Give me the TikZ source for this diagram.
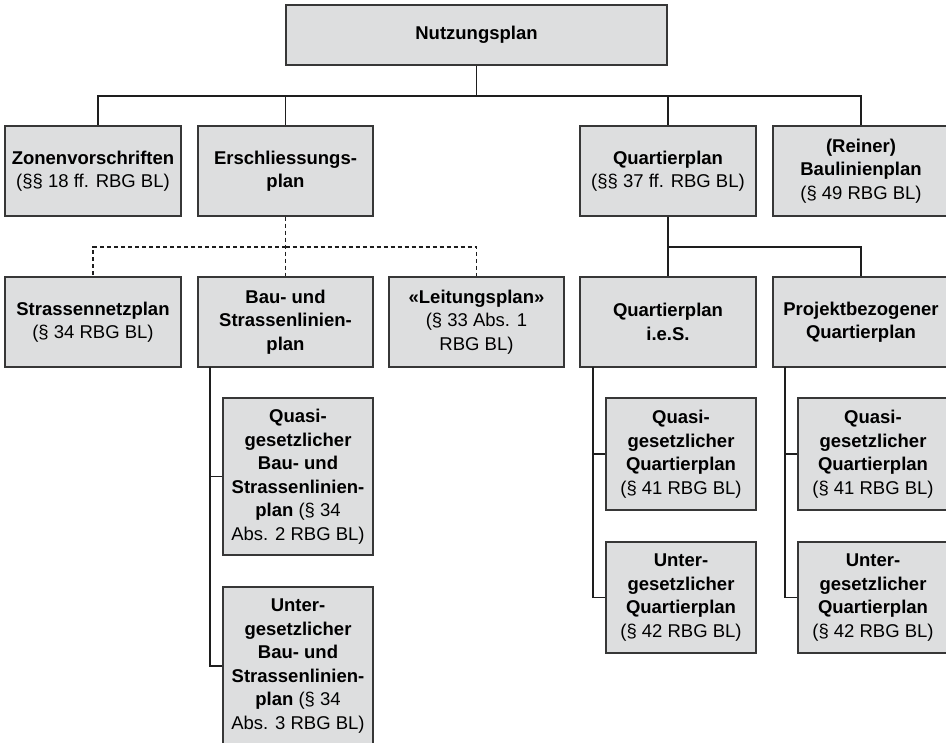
\documentclass[tikz,border=0pt]{standalone}
\usepackage{fontspec}
\setmainfont{Liberation Sans}
\definecolor{boxfill}{RGB}{221,222,223}
\definecolor{boxline}{RGB}{55,55,55}
\definecolor{conline}{RGB}{30,30,30}
\begin{document}
\begin{tikzpicture}[x=1pt,y=-1pt,
  box/.style={draw=boxline, fill=boxfill, line width=1.4pt, inner sep=0pt,
    align=center, text=black, font=\fontsize{18.5}{23.5}\selectfont},
  con/.style={draw=conline, line width=1.3pt},
  dcon/.style={con, dash pattern=on 4pt off 3pt}]
\useasboundingbox (0,0) rectangle (946,743);
\clip (0,0) rectangle (946,743);
% row 0
\node[box, minimum width=381pt, minimum height=60pt] (nutz) at (476.5,35) {\textbf{Nutzungsplan}};
% row 1
\node[box, minimum width=176pt, minimum height=90pt] (zon) at (93,171) {\textbf{Zonenvorschriften}\\(§§ 18 ff. RBG BL)};
\node[box, minimum width=175pt, minimum height=90pt] (ers) at (285.5,171) {\textbf{Erschliessungs-}\\\textbf{plan}};
\node[box, minimum width=176pt, minimum height=90pt] (qp) at (668,171) {\textbf{Quartierplan}\\(§§ 37 ff. RBG BL)};
\node[box, minimum width=176pt, minimum height=90pt] (rbl) at (861,171) {\textbf{(Reiner)}\\\textbf{Baulinienplan}\\(§ 49 RBG BL)};
% row 2
\node[box, minimum width=176pt, minimum height=90pt] (str) at (93,322) {\textbf{Strassennetzplan}\\(§ 34 RBG BL)};
\node[box, minimum width=175pt, minimum height=90pt] (bsl) at (285.5,322) {\textbf{Bau- und}\\\textbf{Strassenlinien-}\\\textbf{plan}};
\node[box, minimum width=175pt, minimum height=90pt] (lei) at (476.5,322) {\textbf{«Leitungsplan»}\\(§ 33 Abs. 1\\RBG BL)};
\node[box, minimum width=176pt, minimum height=90pt] (qpi) at (668,322) {\textbf{Quartierplan}\\\textbf{i.e.S.}};
\node[box, minimum width=176pt, minimum height=90pt] (pqp) at (861,322) {\textbf{Projektbezogener}\\\textbf{Quartierplan}};
% row 3 left
\node[box, minimum width=150pt, minimum height=157pt] (la) at (298,476.5) {\textbf{Quasi-}\\\textbf{gesetzlicher}\\\textbf{Bau- und}\\\textbf{Strassenlinien-}\\\textbf{plan} (§ 34\\Abs. 2 RBG BL)};
\node[box, minimum width=150pt, minimum height=158pt] (lb) at (298,666) {\textbf{Unter-}\\\textbf{gesetzlicher}\\\textbf{Bau- und}\\\textbf{Strassenlinien-}\\\textbf{plan} (§ 34\\Abs. 3 RBG BL)};
% row 3 middle
\node[box, minimum width=150pt, minimum height=112pt] (ma) at (681,454) {\textbf{Quasi-}\\\textbf{gesetzlicher}\\\textbf{Quartierplan}\\(§ 41 RBG BL)};
\node[box, minimum width=150pt, minimum height=111pt] (mb) at (681,597.5) {\textbf{Unter-}\\\textbf{gesetzlicher}\\\textbf{Quartierplan}\\(§ 42 RBG BL)};
% row 3 right
\node[box, minimum width=150pt, minimum height=112pt] (ra) at (873,454) {\textbf{Quasi-}\\\textbf{gesetzlicher}\\\textbf{Quartierplan}\\(§ 41 RBG BL)};
\node[box, minimum width=150pt, minimum height=111pt] (rb) at (873,597.5) {\textbf{Unter-}\\\textbf{gesetzlicher}\\\textbf{Quartierplan}\\(§ 42 RBG BL)};
% connectors from Nutzungsplan
\coordinate (bus) at (476.5,96);
\draw[con] (nutz.south) -- (bus);
\draw[con] (bus) -| ([xshift=5pt]zon.north);
\draw[con] (bus) -| (ers.north);
\draw[con] (bus) -| (qp.north);
\draw[con] (bus) -| (rbl.north);
% dashed connectors from Erschliessungsplan
\coordinate (dbus) at (285.5,247);
\draw[dcon] (ers.south) -- (bsl.north);
\draw[dcon] (dbus) -| (str.north);
\draw[dcon] (dbus) -| (lei.north);
% Quartierplan connectors
\coordinate (qbus) at (668,247);
\draw[con] (qp.south) -- (qpi.north);
\draw[con] (qbus) -| (pqp.north);
% vertical branches
\coordinate (lt) at (210,367);
\draw[con] (lt) |- (la.west);
\draw[con] (lt) |- (lb.west);
\coordinate (mt) at (593,367);
\draw[con] (mt) |- (ma.west);
\draw[con] (mt) |- (mb.west);
\coordinate (rt) at (785,367);
\draw[con] (rt) |- (ra.west);
\draw[con] (rt) |- (rb.west);
\end{tikzpicture}
\end{document}
